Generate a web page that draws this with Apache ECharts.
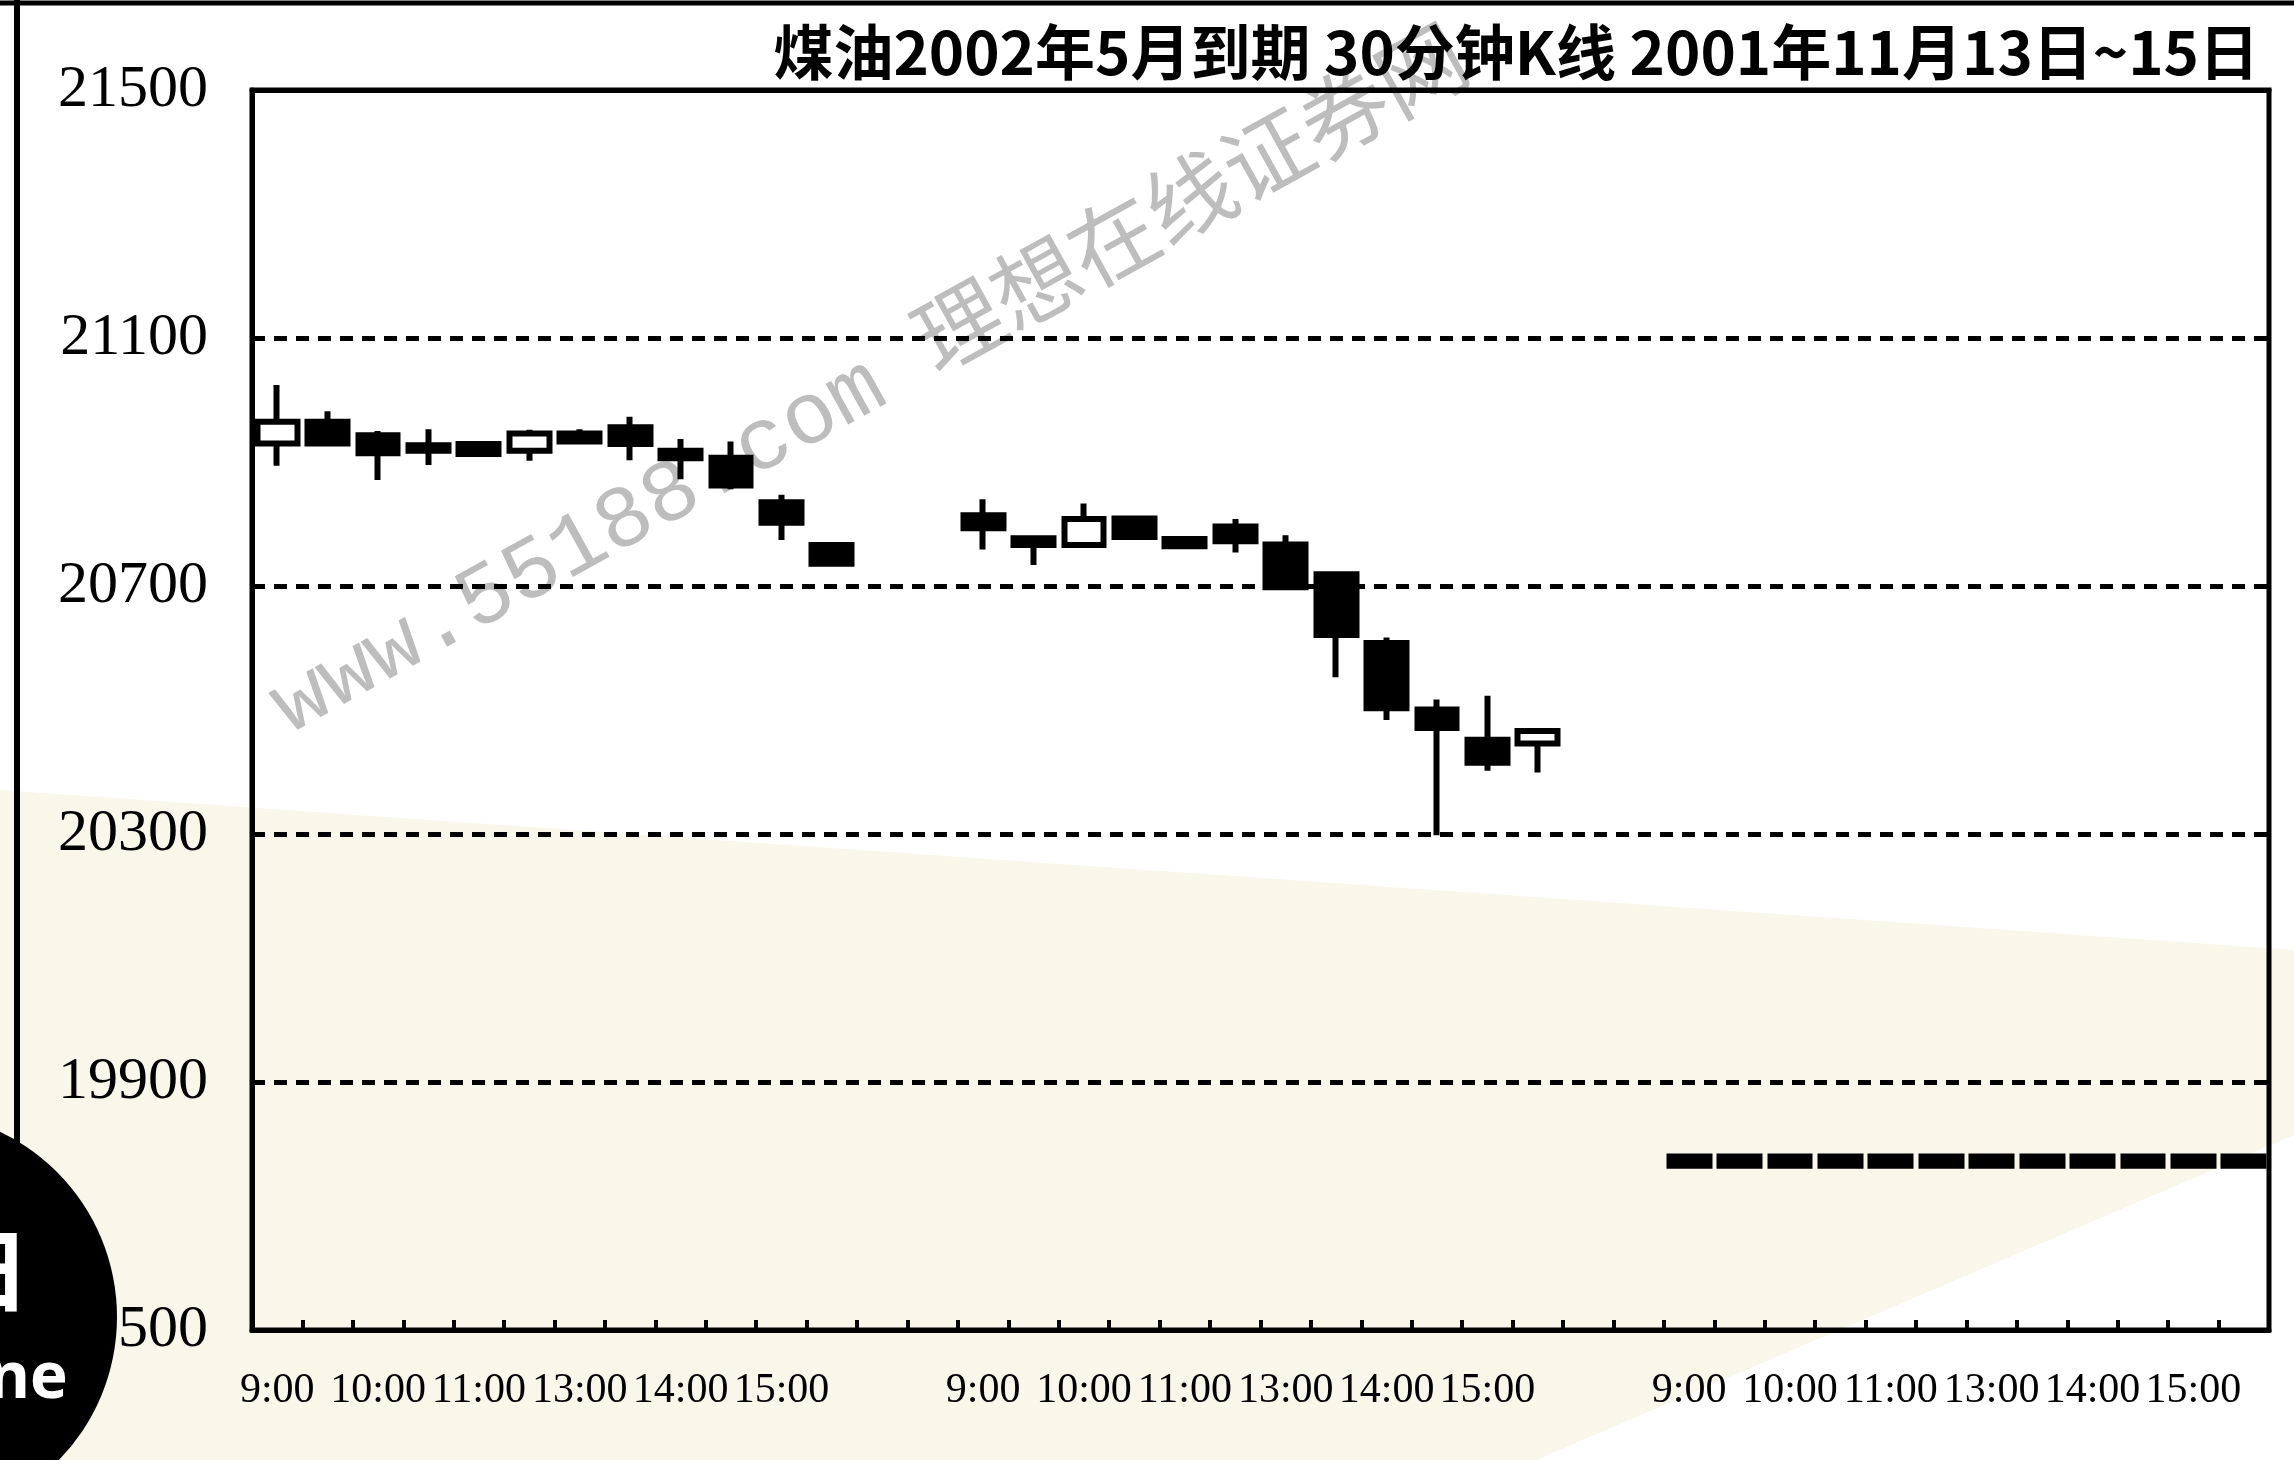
<!DOCTYPE html>
<html><head><meta charset="utf-8">
<script src="https://cdn.jsdelivr.net/npm/echarts@6/dist/echarts.min.js"></script>
<style>html,body{margin:0;padding:0;background:#fff}#c{width:2294px;height:1460px}</style>
</head><body><div id="c"></div>
<script>
const titleText = '煤油2002年5月到期 30分钟K线 2001年11月13日~15日';
const days = ['11/13', '11/14', '11/15'];
const slotTimes = ['9:00','9:30','10:00','10:30','11:00','11:30','13:00','13:30','14:00','14:30','15:00','15:30'];
const yTicks = [19500, 19900, 20300, 20700, 21100, 21500];
const gapSlots = 2;
// each row: [open, close, low, high]
const day1 = [
  [20930, 20965, 20894, 21024],
  [20965, 20930, 20926, 20982],
  [20943, 20914, 20871, 20950],
  [20927, 20918, 20895, 20953],
  [20929, 20913, 20909, 20933],
  [20918, 20946, 20902, 20952],
  [20946, 20933, 20929, 20953],
  [20956, 20929, 20903, 20973],
  [20918, 20906, 20872, 20937],
  [20907, 20862, 20856, 20933],
  [20835, 20802, 20774, 20847],
  [20766, 20736, 20732, 20770]
];
const day2 = [
  [20814, 20793, 20759, 20840],
  [20777, 20766, 20734, 20781],
  [20766, 20808, 20762, 20833],
  [20809, 20779, 20775, 20813],
  [20776, 20764, 20760, 20780],
  [20796, 20772, 20754, 20808],
  [20767, 20698, 20694, 20782],
  [20719, 20621, 20553, 20723],
  [20608, 20503, 20484, 20617],
  [20501, 20471, 20298, 20517],
  [20452, 20415, 20402, 20523],
  [20446, 20466, 20399, 20470]
];
const day3 = [
  [19780, 19765, 19765, 19780],
  [19780, 19765, 19765, 19780],
  [19780, 19765, 19765, 19780],
  [19780, 19765, 19765, 19780],
  [19780, 19765, 19765, 19780],
  [19780, 19765, 19765, 19780],
  [19780, 19765, 19765, 19780],
  [19780, 19765, 19765, 19780],
  [19780, 19765, 19765, 19780],
  [19780, 19765, 19765, 19780],
  [19780, 19765, 19765, 19780],
  [19780, 19765, 19765, 19780]
];

const categories = [];
const kData = [];
[day1, day2, day3].forEach((d, di) => {
  d.forEach((v, i) => { categories.push(days[di] + ' ' + slotTimes[i]); kData.push(v); });
  if (di < 2) {
    for (let g = 0; g < gapSlots; g++) { categories.push('gap' + di + '-' + g); kData.push(['-', '-', '-', '-']); }
  }
});

const chart = echarts.init(document.getElementById('c'), null, {renderer: 'canvas'});
chart.setOption({
  animation: false,
  backgroundColor: '#fff',
  title: {
    text: titleText, right: 30, top: 17,
    textStyle: {fontFamily: 'Noto Sans CJK SC', fontWeight: 'bold', fontSize: 60, color: '#000'}
  },
  grid: {left: 252, right: 25, top: 90, bottom: 130, show: true, borderColor: '#000', borderWidth: 5, backgroundColor: 'transparent'},
  xAxis: [{
    type: 'category', data: categories, boundaryGap: true,
    axisLine: {lineStyle: {color: '#000', width: 5}},
    axisTick: {show: true, inside: true, interval: 0, length: 10, lineStyle: {color: '#000', width: 4}},
    axisLabel: {
      interval: 0, margin: 40, color: '#000', fontFamily: 'Liberation Serif', fontSize: 42,
      formatter: v => {
        if (v.indexOf('gap') === 0) return '';
        const t = v.split(' ')[1];
        return t.endsWith(':00') ? t : '';
      }
    },
    splitLine: {show: false}
  }, {
    type: 'category', data: categories, position: 'top', boundaryGap: true,
    axisLine: {show: true, onZero: false, lineStyle: {color: '#000', width: 5}},
    axisTick: {show: false}, axisLabel: {show: false}, splitLine: {show: false}
  }],
  yAxis: {
    type: 'value', min: yTicks[0], max: yTicks[yTicks.length - 1], interval: yTicks[1] - yTicks[0],
    axisLine: {show: true, lineStyle: {color: '#000', width: 5}},
    axisTick: {show: false},
    axisLabel: {color: '#000', fontFamily: 'Liberation Serif', fontSize: 60, margin: 44, formatter: v => String(v)},
    splitLine: {show: true, showMinLine: false, showMaxLine: false, lineStyle: {color: '#000', width: 5, type: [13, 9]}}
  },
  series: [{
    type: 'candlestick', data: kData, barWidth: '80%', xAxisIndex: 0,
    itemStyle: {color: '#fff', color0: '#000', borderColor: '#000', borderColor0: '#000', borderWidth: 6},
    emphasis: {disabled: true}
  }],
  graphic: [
    {type: 'polygon', z: -10, silent: true, shape: {points: [[0, 790], [2294, 950], [2294, 1135], [1536, 1460], [0, 1460]]}, style: {fill: '#f8f7ea'}},
    {type: 'text', z: -5, silent: true, x: 300, y: 752, rotation: 29 * Math.PI / 180,
      style: {text: 'www.55188.com 理想在线证券网', fontFamily: 'Liberation Mono, Noto Sans CJK SC', fontSize: 88, fill: '#bdbdbd', verticalAlign: 'bottom'}},
    {type: 'line', silent: true, shape: {x1: 17, y1: 0, x2: 17, y2: 1200}, style: {stroke: '#000', lineWidth: 6}},
    {type: 'line', silent: true, shape: {x1: 0, y1: 3, x2: 2294, y2: 3}, style: {stroke: '#000', lineWidth: 5}},
    {type: 'circle', z: 100, silent: true, shape: {cx: -88, cy: 1317, r: 205}, style: {fill: '#000'}},
    {type: 'text', z: 101, silent: true, x: 30, y: 1270, style: {text: '日', fill: '#fff', fontSize: 90, fontWeight: 'bold', align: 'right', verticalAlign: 'middle', fontFamily: 'Noto Sans CJK SC'}},
    {type: 'text', z: 101, silent: true, x: 68, y: 1380, style: {text: 'ne', fill: '#fff', fontSize: 64, fontWeight: 'bold', align: 'right', verticalAlign: 'middle', fontFamily: 'Noto Sans'}}
  ]
});
</script>
</body></html>
